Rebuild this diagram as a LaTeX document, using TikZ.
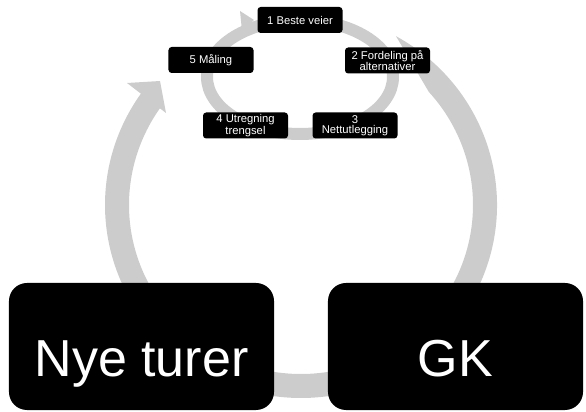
\documentclass[tikz,border=0pt]{standalone}
\usepackage{fontspec}
\setmainfont{Liberation Sans}
\definecolor{ringgray}{RGB}{204,204,204}
\begin{document}
\begin{tikzpicture}[x=0.25mm, y=-0.25mm, line join=round,
	bigbox/.style={fill=black, text=white, rounded corners=4.5mm, minimum width=66.25mm, minimum height=31.75mm, text height=15mm, text depth=0pt, font=\fontsize{37}{40}\selectfont},
	smallbox/.style={fill=black, text=white, rounded corners=0.8mm, minimum width=21.25mm, minimum height=6.5mm, inner sep=0pt, align=center, font=\fontsize{8}{7.4}\selectfont},
	ring/.style={ringgray, line width=6mm},
	smallring/.style={ringgray, line width=3mm}]
	\useasboundingbox (0,0) rectangle (586,412);
	% big cycle
	\coordinate (O) at (301,205);
	\fill[ringgray] ([shift={(-61:196 and 193)}]O) arc[start angle=-61, end angle=60, x radius=196, y radius=193]
		-- ([shift={(60:172 and 169)}]O) arc[start angle=60, end angle=-42, x radius=172, y radius=169] -- cycle;
	\draw[ring] ([shift={(65:184 and 181)}]O) arc[start angle=65, end angle=115, x radius=184, y radius=181];
	\draw[ring] ([shift={(125:184 and 181)}]O) arc[start angle=125, end angle=216, x radius=184, y radius=181];
	\fill[ringgray] (127,83) -- (160,81) -- (166,113) -- cycle;
	% small cycle
	\coordinate (C) at (300,77);
	\draw[smallring] (C) ellipse [x radius=93, y radius=57];
	\fill[ringgray] (240,11) -- (254,20) -- (242,31) -- cycle;
	\node[smallbox] (s1) at (300,20) {1 Beste veier};
	\node[smallbox] (s2) at (387.5,60.5) {2 Fordeling på\\alternativer};
	\node[smallbox] (s3) at (355,125.5) {3\\Nettutlegging};
	\node[smallbox] (s4) at (245.5,125.5) {4 Utregning\\trengsel};
	\node[smallbox] (s5) at (211,60) {5 Måling};
	% outer boxes
	\node[bigbox] (nye) at (141.5,346.5) {Nye turer};
	\node[bigbox, minimum width=63.75mm] (gk) at (455.5,346.5) {GK};
\end{tikzpicture}
\end{document}
